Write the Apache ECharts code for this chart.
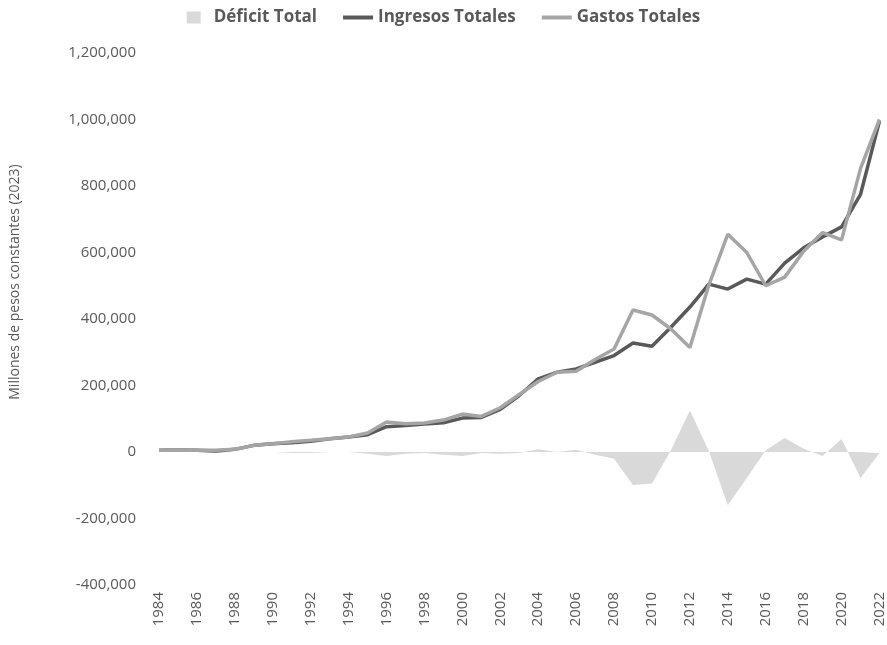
<!DOCTYPE html>
<html>
<head>
<meta charset="utf-8">
<script src="https://cdn.jsdelivr.net/npm/echarts@6/dist/echarts.min.js"></script>
<style>
  html, body { margin: 0; padding: 0; background: #fff; }
  #chart { width: 887px; height: 645px; }
</style>
</head>
<body>
<div id="chart"></div>
<script>
// years on the category axis
var years = [];
for (var y = 1984; y <= 2022; y++) years.push(String(y));

// Ingresos Totales (millones de pesos constantes 2023)
var ingresos = [5000, 6000, 5000, 3000, 8000, 20000, 25000, 28000, 32000, 40000,
  45000, 52000, 76000, 80000, 84000, 88000, 102000, 104000, 128000, 170000,
  220000, 240000, 250000, 270000, 290000, 328000, 318000, 375000, 436000, 505000,
  490000, 520000, 505000, 568000, 614000, 647000, 677000, 775000, 995000];

// Gastos Totales
var gastos = [5000, 6000, 5000, 5000, 8000, 20000, 25000, 31000, 35000, 40000,
  45000, 57000, 90000, 85000, 87000, 96000, 114000, 107000, 133000, 173000,
  212000, 240000, 243000, 278000, 310000, 427000, 412000, 370000, 314000, 502000,
  655000, 600000, 500000, 526000, 604000, 660000, 638000, 853000, 1000000];

// Déficit Total
var deficit = [0, 0, 0, -2000, 0, 0, 0, -3000, -3000, 0,
  0, -5000, -12000, -5000, -3000, -8000, -12000, -3000, -5000, -3000,
  8000, 0, 7000, -8000, -20000, -99000, -95000, 5000, 125000, 3000,
  -160000, -78000, 5000, 42000, 10000, -12000, 39000, -78000, -3000];

var chart = echarts.init(document.getElementById('chart'));

var lineIcon = 'path://M0,0 H30 V4 H0 Z';

var option = {
    backgroundColor: '#ffffff',
    animation: false,
    legend: {
        top: 4,
        left: 'center',
        itemGap: 26,
        itemWidth: 30,
        itemHeight: 12,
        textStyle: {
            color: '#595959',
            fontSize: 17,
            fontWeight: 'bold',
            fontFamily: 'Open Sans'
        },
        data: [
            {name: 'Déficit Total', icon: 'path://M0,0 H14 V12 H0 Z', itemStyle: {color: '#d9d9d9'}},
            {name: 'Ingresos Totales', icon: lineIcon},
            {name: 'Gastos Totales', icon: lineIcon}
        ]
    },
    grid: {
        left: 155,
        right: 7,
        top: 53,
        bottom: 60
    },
    xAxis: {
        type: 'category',
        boundaryGap: false,
        data: years,
        axisLine: {show: false},
        axisTick: {show: false},
        axisLabel: {
            interval: 1,
            rotate: 90,
            color: '#595959',
            fontSize: 15,
            fontFamily: 'Open Sans',
            margin: 7
        }
    },
    yAxis: {
        type: 'value',
        min: -400000,
        max: 1200000,
        interval: 200000,
        name: 'Millones de pesos constantes (2023)',
        nameLocation: 'middle',
        nameGap: 137,
        nameTextStyle: {
            color: '#595959',
            fontSize: 14,
            fontFamily: 'Open Sans',
            padding: [0, 0, 0, 74]
        },
        axisLine: {show: false},
        axisTick: {show: false},
        splitLine: {show: false},
        axisLabel: {
            color: '#595959',
            fontSize: 15,
            fontFamily: 'Open Sans',
            margin: 23,
            formatter: function (v) {
                return v.toLocaleString('en-US');
            }
        }
    },
    series: [
        {
            name: 'Déficit Total',
            type: 'line',
            data: deficit,
            symbol: 'none',
            itemStyle: {color: '#d9d9d9'},
            lineStyle: {width: 0, color: '#d9d9d9'},
            areaStyle: {color: '#d9d9d9', opacity: 1, origin: 0}
        },
        {
            name: 'Ingresos Totales',
            type: 'line',
            data: ingresos,
            symbol: 'none',
            itemStyle: {color: '#595959'},
            lineStyle: {width: 3.5, color: '#595959'}
        },
        {
            name: 'Gastos Totales',
            type: 'line',
            data: gastos,
            symbol: 'none',
            itemStyle: {color: '#a5a5a5'},
            lineStyle: {width: 3.5, color: '#a5a5a5'}
        }
    ]
};
chart.setOption(option);
</script>
</body>
</html>
